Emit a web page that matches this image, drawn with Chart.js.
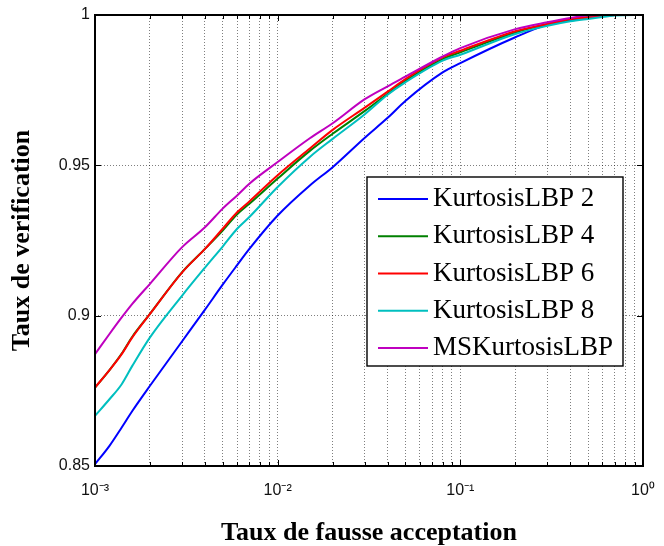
<!DOCTYPE html>
<html><head><meta charset="utf-8">
<script src="https://cdn.jsdelivr.net/npm/chart.js@4.4.1/dist/chart.umd.min.js"></script>
<style>html,body{margin:0;padding:0;background:#fff;}canvas{display:block;}</style>
</head><body>
<canvas id="c" width="664" height="546"></canvas>
<script>
// False acceptance rate (x, log scale)
const far = [0.001, 0.0012, 0.0014, 0.0016, 0.002, 0.003, 0.004, 0.005, 0.006, 0.007, 0.01, 0.015, 0.02, 0.03, 0.04, 0.05, 0.08, 0.1, 0.2, 0.3, 0.4, 0.5, 0.6, 0.7, 1];
// Verification rate per method
const kurtosisLBP2 = [0.8506, 0.8567, 0.8628, 0.8683, 0.8767, 0.8915, 0.9020, 0.9103, 0.9168, 0.9222, 0.9333, 0.9433, 0.9494, 0.9592, 0.9658, 0.9714, 0.9809, 0.9840, 0.9926, 0.9968, 0.9982, 0.9990, 0.9996, 1, 1];
const kurtosisLBP4 = [0.8761, 0.8819, 0.8874, 0.8930, 0.9006, 0.9145, 0.9222, 0.9283, 0.9337, 0.9372, 0.9456, 0.9548, 0.9605, 0.9681, 0.9738, 0.9781, 0.9853, 0.9876, 0.9942, 0.9970, 0.9986, 0.9993, 0.9998, 1, 1];
const kurtosisLBP6 = [0.8761, 0.8819, 0.8872, 0.8928, 0.9006, 0.9144, 0.9222, 0.9289, 0.9344, 0.9380, 0.9467, 0.9556, 0.9618, 0.9692, 0.9745, 0.9787, 0.9859, 0.9881, 0.9946, 0.9970, 0.9987, 0.9992, 0.9997, 1, 1];
const kurtosisLBP8 = [0.8667, 0.8722, 0.8772, 0.8833, 0.8928, 0.9067, 0.9160, 0.9230, 0.9289, 0.9328, 0.9428, 0.9528, 0.9588, 0.9670, 0.9735, 0.9776, 0.9848, 0.9868, 0.9937, 0.9964, 0.9979, 0.9987, 0.9993, 0.9998, 1];
const msKurtosisLBP = [0.8872, 0.8939, 0.8994, 0.9039, 0.9106, 0.9228, 0.9294, 0.9356, 0.9400, 0.9439, 0.9511, 0.9590, 0.9640, 0.9720, 0.9763, 0.9795, 0.9862, 0.9890, 0.9953, 0.9976, 0.9990, 0.9998, 1, 1, 1];

const seriesLabels = ['KurtosisLBP 2', 'KurtosisLBP 4', 'KurtosisLBP 6', 'KurtosisLBP 8', 'MSKurtosisLBP'];
const seriesColors = ['#0000ff', '#008000', '#ff0000', '#00bfbf', '#bf00bf'];
const seriesValues = [kurtosisLBP2, kurtosisLBP4, kurtosisLBP6, kurtosisLBP8, msKurtosisLBP];

const xTickValues = [0.001, 0.01, 0.1, 1];
const xTickLabels = ['10\u207B\u00B3', '10\u207B\u00B2', '10\u207B\u00B9', '10\u2070'];
const yTickValues = [0.85, 0.9, 0.95, 1];
const yTickLabels = ['0.85', '0.9', '0.95', '1'];

const xTitle = 'Taux de fausse acceptation';
const yTitle = 'Taux de verification';

// log grid positions (1..9 x 10^n)
const xGridValues = [];
for (let e = -3; e < 0; e++) for (let m = 1; m <= 9; m++) xGridValues.push(+(m * Math.pow(10, e)).toPrecision(3));
xGridValues.push(1);

const datasets = seriesValues.map((vals, i) => ({
  label: seriesLabels[i],
  data: far.map((x, j) => ({x: x, y: vals[j]})),
  borderColor: seriesColors[i],
  backgroundColor: seriesColors[i],
  borderWidth: 2,
  pointRadius: 0,
  cubicInterpolationMode: 'monotone',
  fill: false,
  order: seriesValues.length - i
}));

const boxPlugin = {
  id: 'boxPlugin',
  afterDraw(chart) {
    const ctx = chart.ctx, a = chart.chartArea;
    const xs = chart.scales.x, ys = chart.scales.y;
    ctx.save();
    ctx.strokeStyle = '#000';
    ctx.lineWidth = 1;
    xGridValues.forEach(v => {
      const px = Math.round(xs.getPixelForValue(v)) + 0.5;
      const len = xTickValues.includes(v) ? 6 : 4;
      ctx.beginPath();
      ctx.moveTo(px, a.bottom); ctx.lineTo(px, a.bottom - len);
      ctx.moveTo(px, a.top); ctx.lineTo(px, a.top + len);
      ctx.stroke();
    });
    yTickValues.forEach(v => {
      const py = Math.round(ys.getPixelForValue(v)) + 0.5;
      ctx.beginPath();
      ctx.moveTo(a.left, py); ctx.lineTo(a.left + 6, py);
      ctx.moveTo(a.right, py); ctx.lineTo(a.right - 6, py);
      ctx.stroke();
    });
    ctx.lineWidth = 2;
    ctx.strokeRect(a.left, a.top, a.right - a.left, a.bottom - a.top);
    // legend
    const lx = 367, ly = 177, lw = 256, lh = 189;
    ctx.fillStyle = '#fff';
    ctx.fillRect(lx, ly, lw, lh);
    ctx.lineWidth = 1.4;
    ctx.strokeStyle = '#000';
    ctx.strokeRect(lx, ly, lw, lh);
    ctx.font = '27px "Liberation Serif", "Times New Roman", serif';
    ctx.textBaseline = 'middle';
    ctx.textAlign = 'left';
    chart.data.datasets.forEach((ds, i) => {
      const ry = 199 + i * 37.25;
      ctx.strokeStyle = ds.borderColor;
      ctx.lineWidth = 2;
      ctx.beginPath();
      ctx.moveTo(378, ry); ctx.lineTo(428, ry);
      ctx.stroke();
      ctx.fillStyle = '#000';
      ctx.fillText(ds.label, 433, ry);
    });
    ctx.restore();
  }
};

new Chart(document.getElementById('c'), {
  type: 'line',
  data: { datasets: datasets },
  plugins: [boxPlugin],
  options: {
    responsive: false,
    animation: false,
    layout: { padding: { top: 15, right: 21, left: 0, bottom: 0 } },
    plugins: { legend: { display: false }, tooltip: { enabled: false } },
    scales: {
      x: {
        type: 'logarithmic',
        min: 0.001, max: 1,
        afterBuildTicks(scale) { scale.ticks = xGridValues.map(v => ({ value: v, major: xTickValues.includes(v) })); },
        afterFit(scale) { scale.height = 80; scale.paddingLeft = 0; scale.paddingRight = 0; },
        grid: { color: 'rgba(0,0,0,0.5)', lineWidth: 1, drawTicks: false },
        border: { display: false, dash: [1, 2] },
        ticks: {
          autoSkip: false, maxRotation: 0, padding: 15,
          color: '#111',
          font: { family: 'Liberation Sans', size: 16 },
          callback(value) { const k = xTickValues.indexOf(value); return k >= 0 ? xTickLabels[k] : ''; }
        },
        title: { display: true, text: xTitle, color: '#000', padding: { top: 0, bottom: -3 },
                 font: { family: 'Liberation Serif', size: 26, weight: 'bold' } }
      },
      y: {
        min: 0.85, max: 1,
        afterBuildTicks(scale) { scale.ticks = yTickValues.map(v => ({ value: v })); },
        afterFit(scale) { scale.width = 95; scale.paddingTop = 0; scale.paddingBottom = 0; },
        grid: { color: 'rgba(0,0,0,0.5)', lineWidth: 1, drawTicks: false },
        border: { display: false, dash: [1, 2] },
        ticks: {
          padding: 5, color: '#111',
          font: { family: 'Liberation Sans', size: 16 },
          callback(value, index) { return yTickLabels[index]; }
        },
        title: { display: true, text: yTitle, color: '#000', padding: { top: 7, bottom: 0 },
                 font: { family: 'Liberation Serif', size: 26, weight: 'bold' } }
      }
    }
  }
});
</script>
</body></html>
